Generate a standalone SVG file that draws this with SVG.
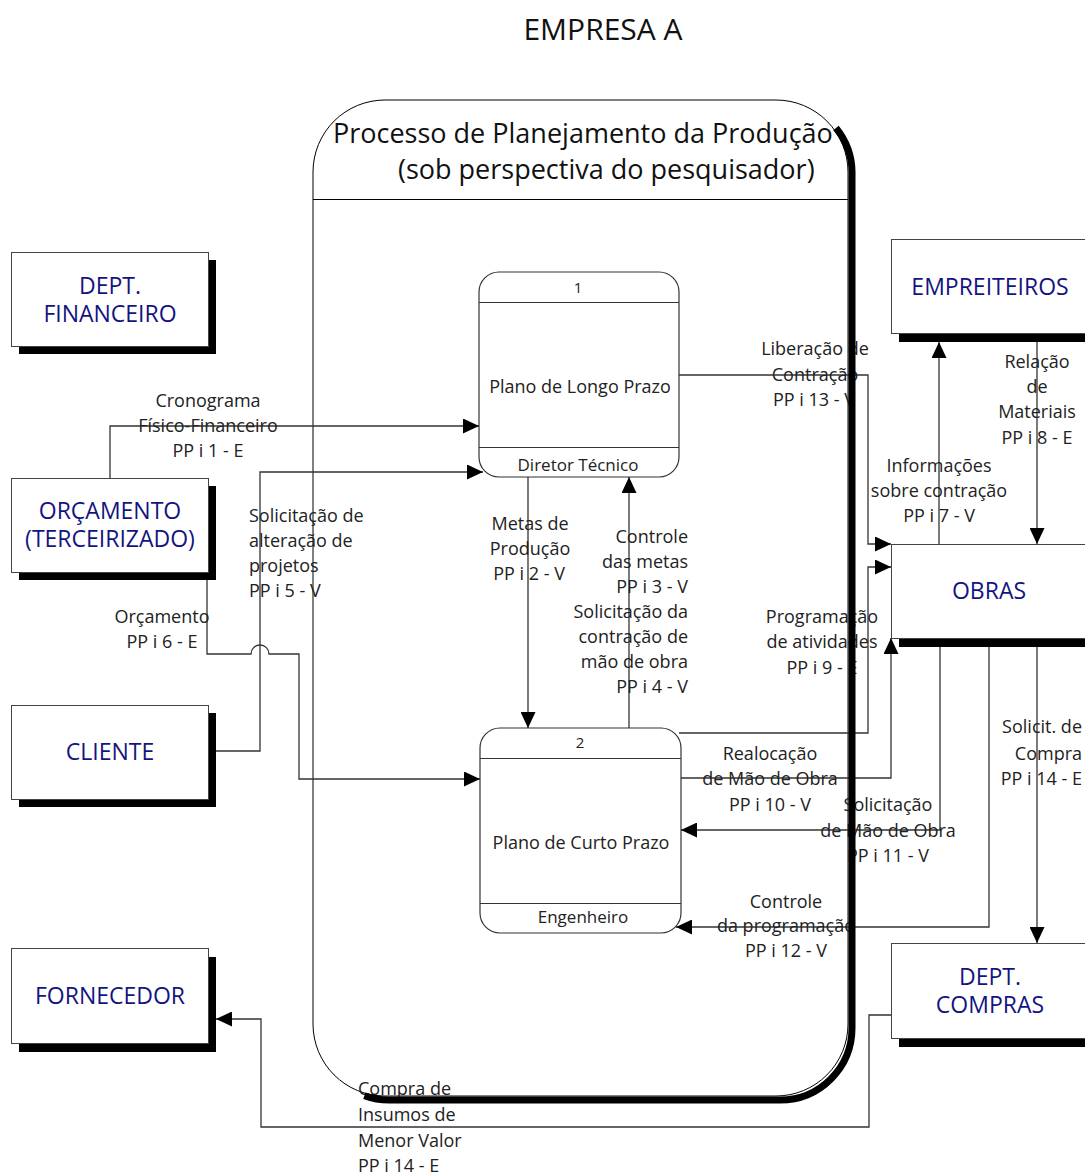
<svg xmlns="http://www.w3.org/2000/svg" width="1085" height="1175" viewBox="0 0 1085 1175">
  <style>
    text { font-family: "Open Sans", "Liberation Sans", sans-serif; }
    .title { font-size: 30px; fill: #111; text-anchor: middle; }
    .head { font-size: 27px; fill: #111; }
    .ent-box { fill: #fff; stroke: #444; stroke-width: 1; }
    .ent-shadow { fill: #000; }
    .ent-text { font-size: 23px; fill: #14147f; text-anchor: middle; }
    .proc-box { fill: #fff; stroke: #333; stroke-width: 1.2; }
    .proc-line { stroke: #333; stroke-width: 1.2; }
    .proc-num { font-size: 15px; fill: #222; text-anchor: middle; }
    .proc-name { font-size: 18px; fill: #222; text-anchor: middle; }
    .proc-who { font-size: 17px; fill: #222; text-anchor: middle; }
    .flow { fill: none; stroke: #333; stroke-width: 1.3; }
    .arrow { marker-end: url(#ah); }
    .lbl { font-size: 18px; fill: #222; }
    .c { text-anchor: middle; }
    .r { text-anchor: end; }
  </style>
  <defs>
    <marker id="ah" markerWidth="16" markerHeight="15" refX="16" refY="7.5" orient="auto" markerUnits="userSpaceOnUse">
      <path d="M0,0 L16,7.5 L0,15 Z" fill="#000"/>
    </marker>
  </defs>

  <rect width="1085" height="1175" fill="#fff"/>

  <text class="title" x="603" y="40">EMPRESA A</text>

  <!-- planning process container -->
  <g id="container">
    <rect x="313" y="100" width="535" height="996" rx="72" ry="72" fill="none" stroke="#000" stroke-width="1"/>
    <line x1="313" y1="199.5" x2="848" y2="199.5" stroke="#000" stroke-width="1"/>
    <text class="head" x="333" y="143">Processo de Planejamento da Produção</text>
    <text class="head" x="398" y="179">(sob perspectiva do pesquisador)</text>
  </g>

  <!-- process 1 -->
  <g id="proc-1">
    <rect class="proc-box" x="479" y="272" width="200" height="205" rx="20" ry="20"/>
    <line class="proc-line" x1="479" y1="302.5" x2="679" y2="302.5"/>
    <line class="proc-line" x1="479" y1="447.5" x2="679" y2="447.5"/>
    <text class="proc-num" x="578" y="293">1</text>
    <text class="proc-name" x="580" y="393">Plano de Longo Prazo</text>
    <text class="proc-who" x="578" y="471">Diretor Técnico</text>
  </g>

  <!-- process 2 -->
  <g id="proc-2">
    <rect class="proc-box" x="480" y="728" width="201" height="205" rx="20" ry="20"/>
    <line class="proc-line" x1="480" y1="758.5" x2="681" y2="758.5"/>
    <line class="proc-line" x1="480" y1="903.5" x2="681" y2="903.5"/>
    <text class="proc-num" x="580" y="748">2</text>
    <text class="proc-name" x="581" y="849">Plano de Curto Prazo</text>
    <text class="proc-who" x="583" y="923">Engenheiro</text>
  </g>

  <!-- data flows -->
  <g id="connectors">
    <path class="flow arrow" d="M110,478 V426 H479"/>
    <path class="flow arrow" d="M208,751 H260 V472 H483"/>
    <path class="flow arrow" d="M207,572 V654 H251 A9,9 0 0 1 269,654 H299 V779 H480"/>
    <path class="flow arrow" d="M528,477 V728"/>
    <path class="flow arrow" d="M629,728 V477"/>
    <path class="flow arrow" d="M679,375 H868 V544 H891"/>
    <path class="flow arrow" d="M679,733 H868 V567 H891"/>
    <path class="flow arrow" d="M681,778 H891 V638"/>
    <path class="flow arrow" d="M940,647 V830 H681"/>
    <path class="flow arrow" d="M989,647 V927 H676"/>
    <path class="flow arrow" d="M1037,647 V943"/>
    <path class="flow arrow" d="M1037,342 V544"/>
    <path class="flow arrow" d="M939,544 V342"/>
    <path class="flow arrow" d="M891,1015 H869 V1127 H261 V1019 H216"/>
  </g>

  <g id="flow-labels">
    <text class="lbl c" x="208" y="407">Cronograma</text>
    <text class="lbl c" x="208" y="432">Físico-Financeiro</text>
    <text class="lbl c" x="208" y="457">PP i 1 - E</text>

    <text class="lbl" x="249" y="522">Solicitação de</text>
    <text class="lbl" x="249" y="547">alteração de</text>
    <text class="lbl" x="249" y="572">projetos</text>
    <text class="lbl" x="249" y="597">PP i 5 - V</text>

    <text class="lbl c" x="162" y="623">Orçamento</text>
    <text class="lbl c" x="162" y="648">PP i 6 - E</text>

    <text class="lbl c" x="530" y="530">Metas de</text>
    <text class="lbl c" x="530" y="555">Produção</text>
    <text class="lbl c" x="529" y="580">PP i 2 - V</text>

    <text class="lbl r" x="688" y="543">Controle</text>
    <text class="lbl r" x="688" y="568">das metas</text>
    <text class="lbl r" x="688" y="593">PP i 3 - V</text>
    <text class="lbl r" x="688" y="618">Solicitação da</text>
    <text class="lbl r" x="688" y="643">contração de</text>
    <text class="lbl r" x="688" y="668">mão de obra</text>
    <text class="lbl r" x="688" y="693">PP i 4 - V</text>

    <text class="lbl c" x="815" y="355">Liberação de</text>
    <text class="lbl c" x="815" y="381">Contração</text>
    <text class="lbl c" x="814" y="406">PP i 13 - V</text>

    <text class="lbl c" x="1037" y="368">Relação</text>
    <text class="lbl c" x="1037" y="393">de</text>
    <text class="lbl c" x="1037" y="418">Materiais</text>
    <text class="lbl c" x="1037" y="444">PP i 8 - E</text>

    <text class="lbl c" x="939" y="472">Informações</text>
    <text class="lbl c" x="939" y="497">sobre contração</text>
    <text class="lbl c" x="939" y="522">PP i 7 - V</text>

    <text class="lbl c" x="822" y="623">Programação</text>
    <text class="lbl c" x="822" y="648">de atividades</text>
    <text class="lbl c" x="822" y="674">PP i 9 - E</text>

    <text class="lbl c" x="770" y="760">Realocação</text>
    <text class="lbl c" x="770" y="785">de Mão de Obra</text>
    <text class="lbl c" x="770" y="811">PP i 10 - V</text>

    <text class="lbl c" x="888" y="811">Solicitação</text>
    <text class="lbl c" x="888" y="837">de Mão de Obra</text>
    <text class="lbl c" x="888" y="862">PP i 11 - V</text>

    <text class="lbl c" x="786" y="908">Controle</text>
    <text class="lbl c" x="786" y="932">da programação</text>
    <text class="lbl c" x="786" y="957">PP i 12 - V</text>

    <text class="lbl r" x="1082" y="733">Solicit. de</text>
    <text class="lbl r" x="1082" y="760">Compra</text>
    <text class="lbl r" x="1082" y="785">PP i 14 - E</text>

    <text class="lbl" x="358" y="1095">Compra de</text>
    <text class="lbl" x="358" y="1121">Insumos de</text>
    <text class="lbl" x="358" y="1147">Menor Valor</text>
    <text class="lbl" x="358" y="1172">PP i 14 - E</text>
  </g>

  <!-- external entities -->
  <g id="ent-financeiro">
    <rect class="ent-shadow" x="19" y="260" width="197" height="94"/>
    <rect class="ent-box" x="11.5" y="252.5" width="197" height="94"/>
    <text class="ent-text" x="110" y="294">DEPT.</text>
    <text class="ent-text" x="110" y="322">FINANCEIRO</text>
  </g>
  <g id="ent-orcamento">
    <rect class="ent-shadow" x="19" y="486" width="197" height="94"/>
    <rect class="ent-box" x="11.5" y="478.5" width="197" height="94"/>
    <text class="ent-text" x="110" y="519">ORÇAMENTO</text>
    <text class="ent-text" x="110" y="547">(TERCEIRIZADO)</text>
  </g>
  <g id="ent-cliente">
    <rect class="ent-shadow" x="19" y="713" width="197" height="94"/>
    <rect class="ent-box" x="11.5" y="705.5" width="197" height="94"/>
    <text class="ent-text" x="110" y="760">CLIENTE</text>
  </g>
  <g id="ent-fornecedor">
    <rect class="ent-shadow" x="19" y="957" width="197" height="95"/>
    <rect class="ent-box" x="11.5" y="948.5" width="197" height="95"/>
    <text class="ent-text" x="110" y="1004">FORNECEDOR</text>
  </g>
  <g id="ent-empreiteiros">
    <rect class="ent-shadow" x="899" y="247" width="220" height="95"/>
    <rect class="ent-box" x="891.5" y="239.5" width="220" height="94"/>
    <text class="ent-text" x="990" y="295">EMPREITEIROS</text>
  </g>
  <g id="ent-obras">
    <rect class="ent-shadow" x="899" y="552" width="220" height="95"/>
    <rect class="ent-box" x="891.5" y="544.5" width="220" height="94"/>
    <text class="ent-text" x="989" y="599">OBRAS</text>
  </g>
  <g id="ent-compras">
    <rect class="ent-shadow" x="899" y="951" width="220" height="96"/>
    <rect class="ent-box" x="891.5" y="943.5" width="220" height="95"/>
    <text class="ent-text" x="990" y="985">DEPT.</text>
    <text class="ent-text" x="990" y="1013">COMPRAS</text>
  </g>

  <!-- container drop shadow band -->
  <path d="M836,128 A72,72 0 0 1 852,176 V1028 A72,72 0 0 1 780,1100 H389 A72,72 0 0 1 364.4,1095.7" fill="none" stroke="#000" stroke-width="7"/>
</svg>
